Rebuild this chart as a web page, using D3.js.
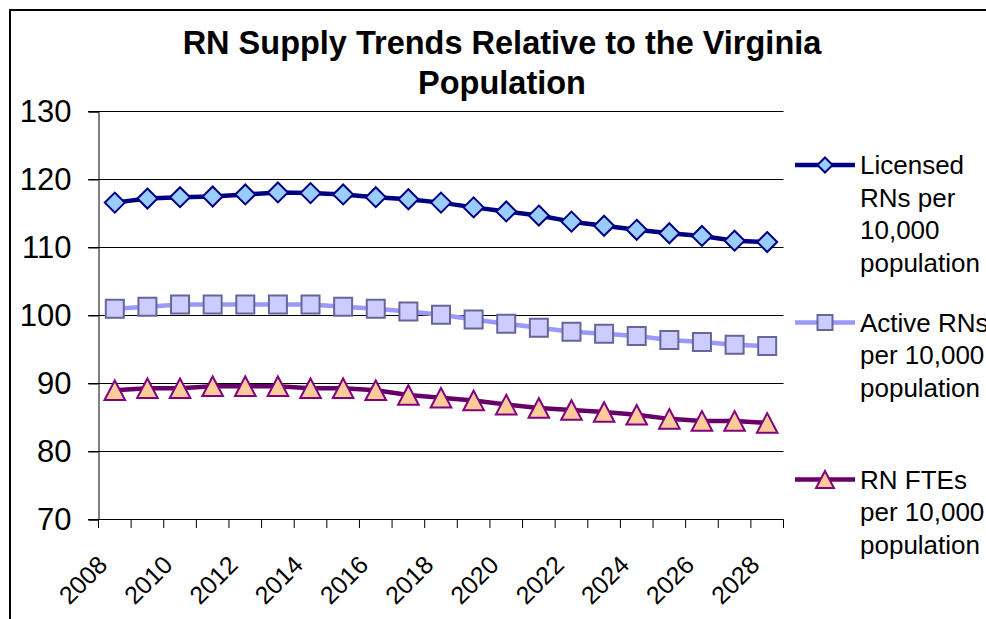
<!DOCTYPE html>
<html><head><meta charset="utf-8">
<script src="https://cdn.jsdelivr.net/npm/d3@7"></script>
<style>
html,body{margin:0;padding:0;background:#fff;}
svg{display:block;font-family:"Liberation Sans",Arial,sans-serif;}
</style></head>
<body><svg id="chart" width="986" height="619"></svg>
<script>
const years = [2008,2009,2010,2011,2012,2013,2014,2015,2016,2017,2018,2019,2020,2021,2022,2023,2024,2025,2026,2027,2028];
const labeledYears = [2008,2010,2012,2014,2016,2018,2020,2022,2024,2026,2028];
const licensed = [116.6,117.2,117.4,117.5,117.8,118.1,118.0,117.8,117.4,117.1,116.6,115.9,115.3,114.7,113.8,113.2,112.6,112.1,111.7,111.0,110.8];
const active = [101.0,101.3,101.6,101.6,101.6,101.6,101.6,101.3,101.0,100.6,100.1,99.4,98.8,98.2,97.6,97.3,97.0,96.4,96.1,95.7,95.5];
const fte = [89.0,89.3,89.3,89.6,89.6,89.6,89.3,89.3,89.0,88.3,87.9,87.5,86.9,86.4,86.1,85.8,85.4,84.8,84.5,84.5,84.2];
const yTicks = [70,80,90,100,110,120,130];
const titleLines = ["RN Supply Trends Relative to the Virginia","Population"];
const legendLabels = [["Licensed","RNs per","10,000","population"],["Active RNs","per 10,000","population"],["RN FTEs","per 10,000","population"]];

const svg = d3.select("#chart");
const x = d3.scaleBand().domain(years).range([98.5,783.5]).padding(0);
const y = d3.scaleLinear().domain([70,130]).range([519.5,111.5]);

// outer border
svg.append("rect").attr("x",10).attr("y",10).attr("width",1000).attr("height",700)
  .attr("fill","none").attr("stroke","#000").attr("stroke-width",2);

// title
svg.append("g").selectAll("text").data(titleLines).join("text")
  .attr("x",502).attr("y",(d,i)=>54+i*40).attr("text-anchor","middle")
  .attr("font-size",32.5).attr("font-weight","bold").attr("fill","#000").text(d=>d);

// gridlines
svg.append("g").selectAll("line").data(yTicks).join("line")
  .attr("x1",88).attr("x2",783.5).attr("y1",d=>y(d)).attr("y2",d=>y(d))
  .attr("stroke","#000").attr("stroke-width",1);

// y axis
const yAxis = d3.axisLeft(y).tickValues(yTicks).tickSize(10).tickPadding(17);
const gy = svg.append("g").attr("transform","translate(98.5,0)").call(yAxis);
gy.select(".domain").attr("stroke","#000");
gy.selectAll(".tick line").attr("stroke","#000");
gy.selectAll(".tick text").attr("font-size",31).attr("fill","#000")
  .attr("font-family","Liberation Sans, Arial, sans-serif");

// x axis ticks at category boundaries
const bounds = years.map(d=>x(d)).concat([x(years[years.length-1])+x.bandwidth()]);
svg.append("g").selectAll("line").data(bounds).join("line")
  .attr("x1",d=>d).attr("x2",d=>d).attr("y1",519.5).attr("y2",528)
  .attr("stroke","#000").attr("stroke-width",1);

// x labels via axis
const xAxis = d3.axisBottom(x).tickValues(labeledYears).tickSize(0).tickPadding(0);
const gx = svg.append("g").attr("transform","translate(0,519.5)").call(xAxis);
gx.select(".domain").remove();
gx.selectAll(".tick text").attr("font-size",25).attr("fill","#000")
  .attr("font-family","Liberation Sans, Arial, sans-serif")
  .attr("text-anchor","end").attr("dy",null).attr("y",null)
  .attr("transform","translate(-6,47) rotate(-45)");

const cx = d => x(d) + x.bandwidth()/2;

const series = [
  {vals:licensed, line:"#000080", fill:"#99CCFF", stroke:"#000080", shape:"diamond"},
  {vals:active, line:"#9999FF", fill:"#CCCCFF", stroke:"#666699", shape:"square"},
  {vals:fte, line:"#660066", fill:"#FFCC99", stroke:"#800080", shape:"triangle"}
];

function markerPath(shape, s){
  if(shape==="diamond") return `M0,${-s}L${s},0L0,${s}L${-s},0Z`;
  if(shape==="square") return `M${-s},${-s}H${s}V${s}H${-s}Z`;
  return `M0,${-s}L${s*1.05},${s}L${-s*1.05},${s}Z`;
}
const markerSize = {diamond:10, square:9, triangle:9.8};
const legendSize = {diamond:7.5, square:7.5, triangle:8.5};

const lineGen = d3.line().x((d,i)=>cx(years[i])).y(d=>y(d));

series.forEach(s=>{
  const g = svg.append("g");
  g.append("path").datum(s.vals).attr("d",lineGen).attr("fill","none")
    .attr("stroke",s.line).attr("stroke-width",4.5).attr("stroke-linejoin","round");
  g.selectAll("path.m").data(s.vals).join("path").attr("class","m")
    .attr("transform",(d,i)=>`translate(${cx(years[i])},${y(d)})`)
    .attr("d",markerPath(s.shape, markerSize[s.shape]))
    .attr("fill",s.fill).attr("stroke",s.stroke).attr("stroke-width",2);
});

// legend
const legendY = [165, 322.5, 479.5];
series.forEach((s,k)=>{
  const g = svg.append("g").attr("transform",`translate(0,${legendY[k]})`);
  g.append("line").attr("x1",795).attr("x2",855).attr("y1",0).attr("y2",0)
    .attr("stroke",s.line).attr("stroke-width",4.5);
  g.append("path").attr("transform","translate(825,0)").attr("d",markerPath(s.shape, legendSize[s.shape]))
    .attr("fill",s.fill).attr("stroke",s.stroke).attr("stroke-width",2);
  g.selectAll("text").data(legendLabels[k]).join("text")
    .attr("x",860).attr("y",(d,i)=>9+i*32.5).attr("font-size",26).attr("fill","#000").text(d=>d);
});
</script></body></html>
